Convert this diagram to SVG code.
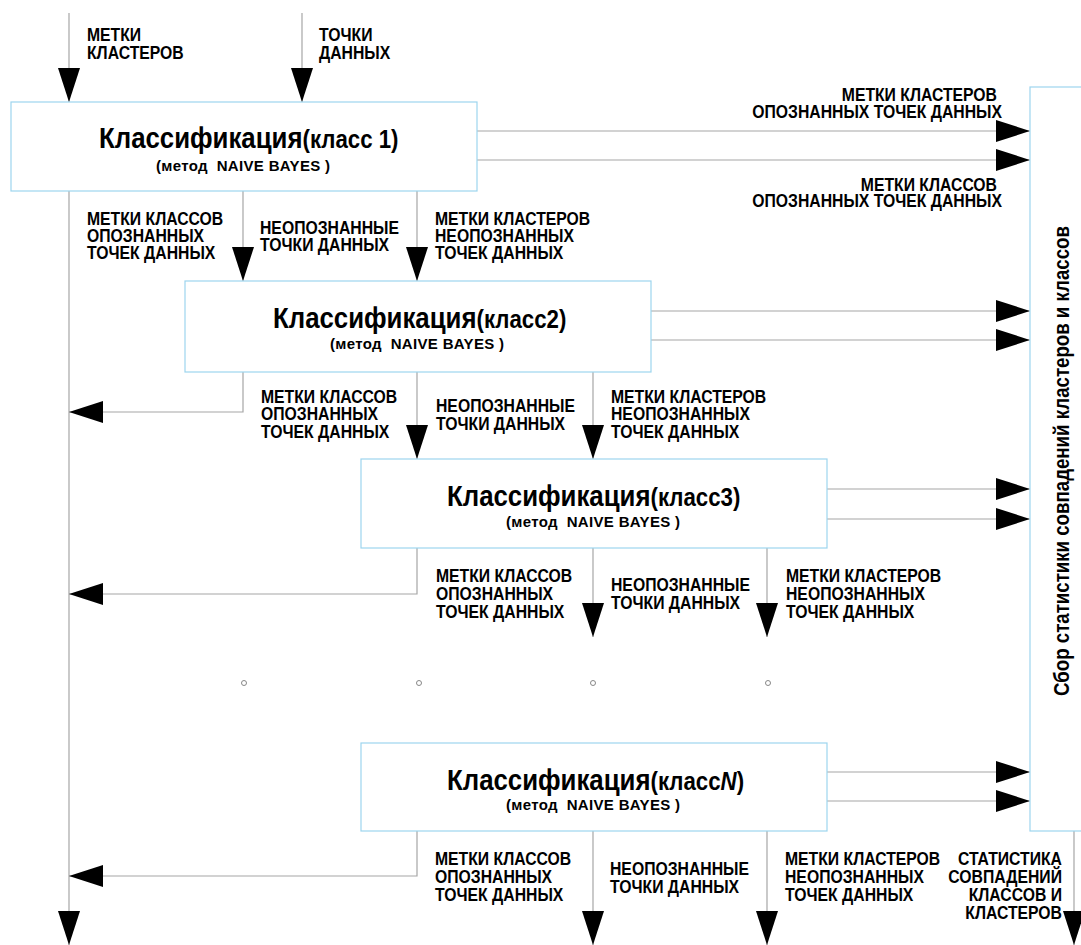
<svg xmlns="http://www.w3.org/2000/svg" width="1081" height="945" viewBox="0 0 1081 945">
<defs>
<marker id="ah" markerUnits="userSpaceOnUse" markerWidth="34" markerHeight="22" refX="34" refY="11" orient="auto">
<path d="M0,0 L34,11 L0,22 z" fill="#000"/>
</marker>
<style>
.box{fill:#fff;stroke:#9dd5ee;stroke-width:1.2}
.c{fill:none;stroke:#a6a6a6;stroke-width:1.2}
.a{marker-end:url(#ah)}
.lbl{font-family:"Liberation Sans",Arial,sans-serif;font-weight:bold;font-size:19px;fill:#000}
.tt{font-family:"Liberation Sans",Arial,sans-serif;font-weight:bold;fill:#000}
.t1{font-size:29px}
.t2{font-size:25px}
.sub{font-family:"Liberation Sans",Arial,sans-serif;font-weight:bold;font-size:15px;fill:#000}
.vt{font-family:"Liberation Sans",Arial,sans-serif;font-weight:bold;font-size:22.5px;fill:#000}
.dot{fill:#fff;stroke:#888;stroke-width:1}
</style>
</defs>
<rect width="1081" height="945" fill="#fff"/>

<g id="connectors">
<path class="c a" d="M69,13 V102"/>
<path class="c a" d="M302,13 V102"/>
<path class="c a" d="M69,191 V945"/>
<path class="c a" d="M243,191 V281"/>
<path class="c a" d="M417,191 V281"/>
<path class="c a" d="M477,131 H1030"/>
<path class="c a" d="M477,160 H1030"/>
<path class="c a" d="M243,372 V412 H69"/>
<path class="c a" d="M417,372 V459"/>
<path class="c a" d="M593,372 V459"/>
<path class="c a" d="M651,311 H1030"/>
<path class="c a" d="M651,340 H1030"/>
<path class="c a" d="M417,548 V594 H69"/>
<path class="c a" d="M593,548 V637"/>
<path class="c a" d="M767,548 V637"/>
<path class="c a" d="M827,489 H1030"/>
<path class="c a" d="M827,519 H1030"/>
<path class="c a" d="M417,831 V876 H69"/>
<path class="c a" d="M593,831 V945"/>
<path class="c a" d="M767,831 V945"/>
<path class="c a" d="M827,772 H1030"/>
<path class="c a" d="M827,801 H1030"/>
<path class="c a" d="M1074,831 V945"/>
</g>

<g id="dots">
<circle class="dot" cx="244" cy="683" r="2.5"/>
<circle class="dot" cx="419" cy="683" r="2.5"/>
<circle class="dot" cx="593" cy="683" r="2.5"/>
<circle class="dot" cx="768" cy="683" r="2.5"/>
</g>

<g id="labels">
<text class="lbl" transform="translate(87,41) scale(0.83,1)"><tspan x="0">МЕТКИ</tspan><tspan x="0" dy="18">КЛАСТЕРОВ</tspan></text>
<text class="lbl" transform="translate(319,41) scale(0.83,1)"><tspan x="0">ТОЧКИ</tspan><tspan x="0" dy="18">ДАННЫХ</tspan></text>

<text class="lbl" text-anchor="end" transform="translate(997,101) scale(0.83,1)">МЕТКИ КЛАСТЕРОВ</text>
<text class="lbl" text-anchor="end" transform="translate(1002,118) scale(0.83,1)">ОПОЗНАННЫХ ТОЧЕК ДАННЫХ</text>
<text class="lbl" text-anchor="end" transform="translate(997,191) scale(0.83,1)">МЕТКИ КЛАССОВ</text>
<text class="lbl" text-anchor="end" transform="translate(1002,207) scale(0.83,1)">ОПОЗНАННЫХ ТОЧЕК ДАННЫХ</text>

<text class="lbl" transform="translate(87,225) scale(0.83,1)"><tspan x="0">МЕТКИ КЛАССОВ</tspan><tspan x="0" dy="17">ОПОЗНАННЫХ</tspan><tspan x="0" dy="17">ТОЧЕК ДАННЫХ</tspan></text>
<text class="lbl" transform="translate(260,234) scale(0.83,1)"><tspan x="0">НЕОПОЗНАННЫЕ</tspan><tspan x="0" dy="17">ТОЧКИ ДАННЫХ</tspan></text>
<text class="lbl" transform="translate(435,225) scale(0.83,1)"><tspan x="0">МЕТКИ КЛАСТЕРОВ</tspan><tspan x="0" dy="17">НЕОПОЗНАННЫХ</tspan><tspan x="0" dy="17">ТОЧЕК ДАННЫХ</tspan></text>

<text class="lbl" transform="translate(261,403) scale(0.83,1)"><tspan x="0">МЕТКИ КЛАССОВ</tspan><tspan x="0" dy="17.5">ОПОЗНАННЫХ</tspan><tspan x="0" dy="17.5">ТОЧЕК ДАННЫХ</tspan></text>
<text class="lbl" transform="translate(436,412) scale(0.83,1)"><tspan x="0">НЕОПОЗНАННЫЕ</tspan><tspan x="0" dy="18">ТОЧКИ ДАННЫХ</tspan></text>
<text class="lbl" transform="translate(611,403) scale(0.83,1)"><tspan x="0">МЕТКИ КЛАСТЕРОВ</tspan><tspan x="0" dy="17.5">НЕОПОЗНАННЫХ</tspan><tspan x="0" dy="17.5">ТОЧЕК ДАННЫХ</tspan></text>

<text class="lbl" transform="translate(436,582) scale(0.83,1)"><tspan x="0">МЕТКИ КЛАССОВ</tspan><tspan x="0" dy="18">ОПОЗНАННЫХ</tspan><tspan x="0" dy="18">ТОЧЕК ДАННЫХ</tspan></text>
<text class="lbl" transform="translate(611,591) scale(0.83,1)"><tspan x="0">НЕОПОЗНАННЫЕ</tspan><tspan x="0" dy="18">ТОЧКИ ДАННЫХ</tspan></text>
<text class="lbl" transform="translate(786,582) scale(0.83,1)"><tspan x="0">МЕТКИ КЛАСТЕРОВ</tspan><tspan x="0" dy="18">НЕОПОЗНАННЫХ</tspan><tspan x="0" dy="18">ТОЧЕК ДАННЫХ</tspan></text>

<text class="lbl" transform="translate(435,865) scale(0.83,1)"><tspan x="0">МЕТКИ КЛАССОВ</tspan><tspan x="0" dy="18">ОПОЗНАННЫХ</tspan><tspan x="0" dy="18">ТОЧЕК ДАННЫХ</tspan></text>
<text class="lbl" transform="translate(610,875) scale(0.83,1)"><tspan x="0">НЕОПОЗНАННЫЕ</tspan><tspan x="0" dy="18">ТОЧКИ ДАННЫХ</tspan></text>
<text class="lbl" transform="translate(785,865) scale(0.83,1)"><tspan x="0">МЕТКИ КЛАСТЕРОВ</tspan><tspan x="0" dy="18">НЕОПОЗНАННЫХ</tspan><tspan x="0" dy="18">ТОЧЕК ДАННЫХ</tspan></text>
<text class="lbl" text-anchor="end" transform="translate(1062,865) scale(0.83,1)"><tspan x="0">СТАТИСТИКА</tspan><tspan x="0" dy="18">СОВПАДЕНИЙ</tspan><tspan x="0" dy="18">КЛАССОВ И</tspan><tspan x="0" dy="18">КЛАСТЕРОВ</tspan></text>
</g>

<g id="node1">
<rect class="box" x="11" y="102" width="466" height="89"/>
<text class="tt" transform="translate(99,148) scale(0.89,1)"><tspan class="t1">Классификация</tspan><tspan class="t2">(класс 1)</tspan></text>
<text class="sub" x="156" y="171" textLength="174" xml:space="preserve">(метод  NAIVE BAYES )</text>
</g>

<g id="node2">
<rect class="box" x="185" y="281" width="466" height="91"/>
<text class="tt" transform="translate(273,328) scale(0.89,1)"><tspan class="t1">Классификация</tspan><tspan class="t2">(класс2)</tspan></text>
<text class="sub" x="330" y="349" textLength="174" xml:space="preserve">(метод  NAIVE BAYES )</text>
</g>

<g id="node3">
<rect class="box" x="361" y="459" width="466" height="89"/>
<text class="tt" transform="translate(447,506) scale(0.89,1)"><tspan class="t1">Классификация</tspan><tspan class="t2">(класс3)</tspan></text>
<text class="sub" x="506" y="527" textLength="174" xml:space="preserve">(метод  NAIVE BAYES )</text>
</g>

<g id="nodeN">
<rect class="box" x="361" y="743" width="466" height="88"/>
<text class="tt" transform="translate(447,790) scale(0.89,1)"><tspan class="t1">Классификация</tspan><tspan class="t2">(класс</tspan><tspan class="t2" font-style="italic">N</tspan><tspan class="t2">)</tspan></text>
<text class="sub" x="506" y="810" textLength="174" xml:space="preserve">(метод  NAIVE BAYES )</text>
</g>

<g id="stats">
<rect class="box" x="1030" y="87" width="70" height="744"/>
<text class="vt" text-anchor="middle" transform="translate(1069,461) rotate(-90) scale(0.83,1)">Сбор статистики совпадений кластеров и классов</text>
</g>
</svg>
